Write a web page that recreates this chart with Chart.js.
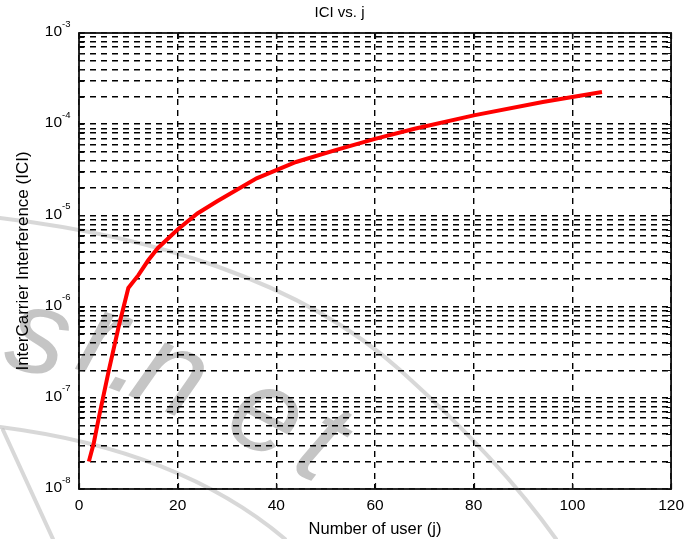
<!DOCTYPE html>
<html>
<head>
<meta charset="utf-8">
<title>ICI vs. j</title>
<script src="https://cdn.jsdelivr.net/npm/chart.js@4.4.1/dist/chart.umd.min.js"></script>
<style>
  html, body { margin: 0; padding: 0; background: #fff; }
  #chart { display: block; }
</style>
</head>
<body>
<canvas id="chart" width="691" height="539"></canvas>
<script>
// number of users (x) and the ICI (y)
const userCounts = [2, 3, 4, 6, 8, 10, 12, 14, 16, 20, 24, 28, 36, 44, 52, 60, 68, 80, 94, 106];
const iciValues = [2.0e-8, 3.2e-8, 6.0e-8, 1.95e-7, 5.9e-7, 1.6e-6, 2.2e-6, 3.2e-6, 4.4e-6, 7.0e-6,
  1.05e-5, 1.43e-5, 2.55e-5, 3.85e-5, 5.2e-5, 6.9e-5, 8.9e-5, 1.25e-4, 1.75e-4, 2.25e-4];

// axis ticks
const xTicks = [0, 20, 40, 60, 80, 100, 120];
const yTickExponents = [-8, -7, -6, -5, -4, -3];
const yMinorFactors = [1, 2, 3, 4, 5, 6, 7, 8, 9];

const FONT = 'Liberation Sans, Arial, Helvetica, sans-serif';

// all log grid lines: 1..9 x 10^e per decade, plus the top one
const yGridValues = [];
yTickExponents.slice(0, -1).forEach(e => {
  yMinorFactors.forEach(m => yGridValues.push(m * Math.pow(10, e)));
});
yGridValues.push(Math.pow(10, yTickExponents[yTickExponents.length - 1]));

// faint "sr.net" watermark and strokes that sit behind the plot
const watermark = {
  id: 'watermark',
  beforeDraw(chart) {
    const ctx = chart.ctx;
    ctx.save();
    ctx.fillStyle = '#fff';
    ctx.fillRect(0, 0, chart.width, chart.height);

    ctx.strokeStyle = 'rgba(190,190,190,0.6)';
    ctx.lineWidth = 4;
    ctx.lineCap = 'round';
    ctx.beginPath();
    ctx.moveTo(0, 218);
    ctx.bezierCurveTo(150, 236, 300, 280, 400, 370);
    ctx.quadraticCurveTo(500, 460, 556, 539);
    ctx.stroke();
    ctx.beginPath();
    ctx.moveTo(0, 427);
    ctx.quadraticCurveTo(180, 450, 285, 539);
    ctx.stroke();
    ctx.beginPath();
    ctx.moveTo(3, 430);
    ctx.lineTo(53, 539);
    ctx.stroke();

    ctx.fillStyle = 'rgba(150,150,150,0.55)';
    ctx.font = 'italic 120px ' + FONT;
    ctx.textAlign = 'center';
    ctx.textBaseline = 'alphabetic';
    const letters = [
      ['s', 30, 372, 14], ['r', 92, 374, 17], ['.', 120, 392, 20],
      ['n', 157, 408, 24], ['e', 250, 448, 28], ['t', 303, 476, 30]
    ];
    letters.forEach(([ch, x, y, a]) => {
      ctx.save();
      ctx.translate(x, y);
      ctx.rotate(a * Math.PI / 180);
      ctx.fillText(ch, 0, 0);
      ctx.restore();
    });
    ctx.restore();
  }
};

// box round the plot, inward tick marks and 10^n labels
const frame = {
  id: 'frame',
  afterDraw(chart) {
    const ctx = chart.ctx;
    const { left, right, top, bottom } = chart.chartArea;
    const xs = chart.scales.x;
    const ys = chart.scales.y;
    ctx.save();
    ctx.strokeStyle = '#111';
    ctx.lineWidth = 1.2;
    ctx.beginPath();
    xTicks.forEach(v => {
      const px = Math.round(xs.getPixelForValue(v)) + 0.5;
      ctx.moveTo(px, bottom); ctx.lineTo(px, bottom - 6);
      ctx.moveTo(px, top); ctx.lineTo(px, top + 6);
    });
    yGridValues.forEach(v => {
      const py = Math.round(ys.getPixelForValue(v)) + 0.5;
      ctx.moveTo(left, py); ctx.lineTo(left + 5, py);
      ctx.moveTo(right, py); ctx.lineTo(right - 5, py);
    });
    ctx.stroke();

    ctx.lineWidth = 1.8;
    ctx.strokeRect(left, top, right - left, bottom - top);

    ctx.fillStyle = '#000';
    ctx.textBaseline = 'middle';
    yTickExponents.forEach(e => {
      const py = ys.getPixelForValue(Math.pow(10, e));
      ctx.font = '15.5px ' + FONT;
      ctx.textAlign = 'right';
      ctx.fillText('10', 62, py - 1);
      ctx.font = '9.5px ' + FONT;
      ctx.textAlign = 'left';
      ctx.fillText(String(e), 62, py - 9);
    });
    ctx.restore();
  }
};

const gridDash = [6, 5];

new Chart(document.getElementById('chart').getContext('2d'), {
  type: 'line',
  data: {
    datasets: [{
      data: userCounts.map((x, i) => ({ x: x, y: iciValues[i] })),
      borderColor: '#ff0000',
      borderWidth: 4,
      pointRadius: 0,
      tension: 0,
      fill: false
    }]
  },
  options: {
    responsive: false,
    animation: false,
    layout: { padding: { left: 0, right: 12, top: 0, bottom: 0 } },
    plugins: {
      legend: { display: false },
      tooltip: { enabled: false },
      title: {
        display: true,
        text: 'ICI vs. j',
        color: '#000',
        font: { family: FONT, size: 15, weight: 'normal' },
        padding: { top: 4, bottom: 11 }
      }
    },
    scales: {
      x: {
        type: 'linear',
        min: 0,
        max: 120,
        afterBuildTicks: s => { s.ticks = xTicks.map(v => ({ value: v })); },
        ticks: { color: '#000', font: { family: FONT, size: 15.5 }, padding: 7, maxRotation: 0 },
        grid: { color: '#000', lineWidth: 1.4, drawTicks: false },
        border: { display: false, dash: gridDash },
        title: {
          display: true,
          text: 'Number of user (j)',
          color: '#000',
          font: { family: FONT, size: 16.5 },
          padding: { top: 0, bottom: 0 }
        },
        afterFit: s => { s.height = 50; }
      },
      y: {
        type: 'logarithmic',
        min: 1e-8,
        max: 1e-3,
        afterBuildTicks: s => { s.ticks = yGridValues.map(v => ({ value: v })); },
        ticks: { display: false },
        grid: { color: '#000', lineWidth: 1.4, drawTicks: false },
        border: { display: false, dash: gridDash },
        title: {
          display: true,
          text: 'InterCarrier Interference (ICI)',
          color: '#000',
          font: { family: FONT, size: 17 },
          padding: { top: 13, bottom: 0 }
        },
        afterFit: s => { s.width = 79; }
      }
    }
  },
  plugins: [watermark, frame]
});
</script>
</body>
</html>
